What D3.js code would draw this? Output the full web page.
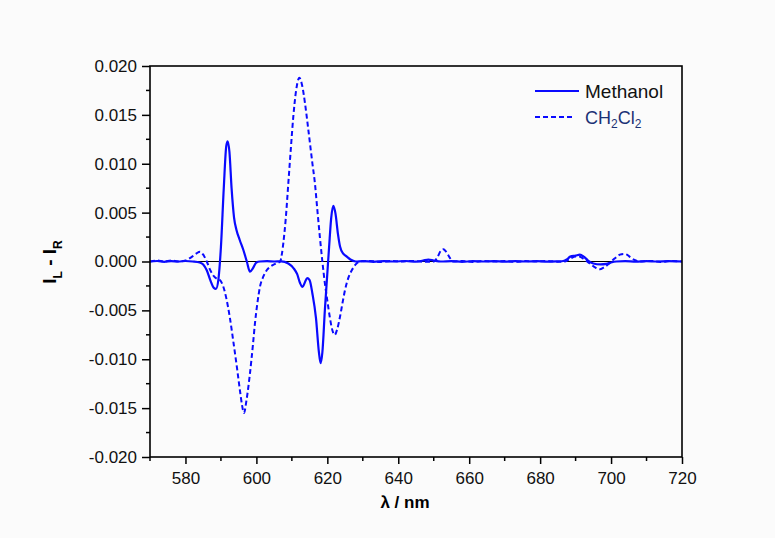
<!DOCTYPE html>
<html>
<head>
<meta charset="utf-8">
<script src="https://cdn.jsdelivr.net/npm/d3@7"></script>
<style>
  body { margin: 0; background: #fbfbfb; }
  svg { display: block; font-family: "Liberation Sans", Arial, sans-serif; }
</style>
</head>
<body>
<svg id="chart"></svg>
<script>
// Wavelengths (nm) and intensity differences for each solvent
const methanolWl = [570, 572, 574, 576, 578, 580, 582, 584, 585, 586, 587, 588, 588.6, 589.3, 590, 590.8, 591.5, 591.9, 592.4, 593, 593.7, 594.4, 595.3, 596.3, 597.3, 598.2, 599, 600, 601, 603, 605, 607, 609, 610.5, 611.5, 612.3, 613, 613.6, 614.3, 615, 615.8, 616.8, 617.6, 618.1, 618.6, 619.3, 620, 620.5, 621.1, 621.7, 622.3, 623, 623.6, 624.5, 625.5, 626.5, 628, 630, 633, 636, 639, 642, 645, 647, 648.5, 650, 652, 655, 658, 661, 664, 667, 670, 673, 676, 679, 682, 685, 686.5, 687.5, 688.5, 690, 691.2, 692.3, 693.5, 695, 697, 698.7, 700, 701.5, 704, 707, 710, 713, 716, 720];
const methanolVal = [0, 0.00005, -0.00003, 0.00004, 0, 0.00005, 0, -0.0001, -0.0003, -0.0009, -0.0019, -0.0027, -0.0028, -0.0018, 0.0015, 0.0075, 0.0118, 0.0123, 0.0112, 0.0075, 0.0045, 0.0032, 0.0022, 0.0012, 0.0, -0.00105, -0.0007, -0.0001, 0, 0.00003, 0, 0.00002, -0.0002, -0.0007, -0.0013, -0.0022, -0.0026, -0.0022, -0.0017, -0.0019, -0.0033, -0.0058, -0.0092, -0.0104, -0.0093, -0.005, -0.0012, 0.0015, 0.0045, 0.0057, 0.0049, 0.0028, 0.0015, 0.0008, 0.0005, 0.0002, 0, 0.00004, -0.00003, 0.00004, 0, 0.00005, -0.00002, 0.0001, 0.0002, 0.0001, 0, 0.00004, -0.00003, 0.00003, 0, 0.00004, -0.00002, 0.00003, 0, 0.00004, -0.00002, 0.00002, 0.00005, 0.0002, 0.0005, 0.0006, 0.0007, 0.0005, 0.0001, -0.0002, -0.0003, -0.00025, -0.0001, 0, 0.00004, -0.00002, 0.00004, 0, 0.00003, 0];

const ch2cl2Wl = [570, 572, 574, 576, 578, 580, 581.5, 583, 584.1, 585, 586, 587, 588, 589, 589.7, 590.6, 591.6, 592.5, 593.5, 594.5, 595.4, 596, 596.5, 597.2, 598.2, 599, 599.6, 600.3, 601, 602, 602.9, 604, 605.5, 606.7, 607.2, 607.6, 608.3, 609, 609.7, 610.4, 611.2, 612.1, 612.9, 613.7, 614.4, 615.1, 615.8, 616.5, 617.2, 617.9, 618.6, 619.3, 620, 620.7, 621.4, 622.1, 622.8, 623.6, 624.3, 625, 626, 626.9, 628, 629.2, 632, 635, 638, 641, 644, 647, 650, 651, 652, 652.7, 653.5, 654.5, 655.5, 658, 661, 664, 667, 670, 673, 676, 679, 682, 685, 687, 688.5, 690, 691, 692.5, 694, 695.5, 696.8, 698, 699.5, 701, 702.5, 703.5, 704.5, 705.5, 707, 708, 711, 714, 717, 720];
const ch2cl2Val = [0, 0.0001, 0, 0.0001, 0, 0.0001, 0.0004, 0.0008, 0.001, 0.0007, 0, -0.0009, -0.0015, -0.0018, -0.0019, -0.0025, -0.0039, -0.0057, -0.0082, -0.0108, -0.0133, -0.0148, -0.0155, -0.0142, -0.0114, -0.0086, -0.0063, -0.0042, -0.0026, -0.0015, -0.0009, -0.0005, -0.0002, 0, 0.0008, 0.0019, 0.0045, 0.008, 0.0115, 0.0148, 0.0175, 0.0188, 0.018, 0.0162, 0.0142, 0.0121, 0.01, 0.008, 0.0052, 0.0025, 0, -0.0022, -0.004, -0.0057, -0.007, -0.0075, -0.0069, -0.0056, -0.0042, -0.0029, -0.0016, -0.0009, -0.0003, 0, 0.00006, -0.00004, 0.00006, 0, 0.00006, -0.00003, 0, 0.0004, 0.0011, 0.00125, 0.001, 0.0004, 0, 0.00005, -0.00004, 0.00006, 0, 0.00005, -0.00003, 0.00005, 0, 0.00006, -0.00003, 0, 0.0003, 0.0005, 0.0005, 0.0002, -0.0002, -0.0006, -0.0008, -0.0006, -0.0002, 0.0003, 0.0007, 0.00078, 0.0007, 0.0004, 0.0001, 0, 0.00006, -0.00004, 0.00005, 0];

const xTicks = [580, 600, 620, 640, 660, 680, 700, 720];
const yTicks = [-0.020, -0.015, -0.010, -0.005, 0.000, 0.005, 0.010, 0.015, 0.020];

const width = 775, height = 538;
const margin = {top: 66, right: 93, bottom: 81, left: 150};
const innerW = width - margin.left - margin.right;
const innerH = height - margin.top - margin.bottom;
const lineColor = "#0a0aff";

const svg = d3.select("#chart").attr("width", width).attr("height", height);
svg.append("rect").attr("width", width).attr("height", height).attr("fill", "#fbfbfb");

const g = svg.append("g").attr("transform", `translate(${margin.left},${margin.top})`);

const x = d3.scaleLinear().domain([570, 720]).range([0, innerW]);
const y = d3.scaleLinear().domain([-0.02, 0.02]).range([innerH, 0]);

g.append("clipPath").attr("id", "clip")
  .append("rect").attr("width", innerW).attr("height", innerH);

// Zero reference line
g.append("line")
  .attr("x1", 0).attr("x2", innerW)
  .attr("y1", y(0)).attr("y2", y(0))
  .attr("stroke", "#000").attr("stroke-width", 1.2);

const line = d3.line()
  .x(d => x(d[0]))
  .y(d => y(d[1]))
  .curve(d3.curveMonotoneX);

const methanol = methanolWl.map((w, i) => [w, methanolVal[i]]);
const ch2cl2 = ch2cl2Wl.map((w, i) => [w, ch2cl2Val[i]]);

g.append("path").datum(ch2cl2)
  .attr("clip-path", "url(#clip)")
  .attr("d", line)
  .attr("fill", "none")
  .attr("stroke", lineColor)
  .attr("stroke-width", 2)
  .attr("stroke-dasharray", "5,3");

g.append("path").datum(methanol)
  .attr("clip-path", "url(#clip)")
  .attr("d", line)
  .attr("fill", "none")
  .attr("stroke", lineColor)
  .attr("stroke-width", 2.2);

// Frame
g.append("rect")
  .attr("width", innerW).attr("height", innerH)
  .attr("fill", "none").attr("stroke", "#000").attr("stroke-width", 1.6);

// Minor ticks
const xMinor = d3.range(570, 721, 10).filter(v => !xTicks.includes(v));
g.selectAll(".xminor").data(xMinor).enter().append("line")
  .attr("x1", d => x(d)).attr("x2", d => x(d))
  .attr("y1", innerH).attr("y2", innerH + 4)
  .attr("stroke", "#000").attr("stroke-width", 1.5);

const yMinor = d3.range(-0.0175, 0.02, 0.005);
g.selectAll(".yminor").data(yMinor).enter().append("line")
  .attr("x1", -4).attr("x2", 0)
  .attr("y1", d => y(d)).attr("y2", d => y(d))
  .attr("stroke", "#000").attr("stroke-width", 1.5);

// Axes
const xAxis = g.append("g").attr("transform", `translate(0,${innerH})`)
  .call(d3.axisBottom(x).tickValues(xTicks).tickSize(7).tickPadding(8).tickFormat(d3.format("d")));
const yAxis = g.append("g")
  .call(d3.axisLeft(y).tickValues(yTicks).tickSize(8).tickPadding(5).tickFormat(d => d3.format(".3f")(d).replace("−", "-")));

[xAxis, yAxis].forEach(ax => {
  ax.select(".domain").remove();
  ax.selectAll(".tick line").attr("stroke", "#000").attr("stroke-width", 1.5);
  ax.selectAll(".tick text").attr("fill", "#111").style("font-size", "17px")
    .style("font-family", "'Liberation Sans', Arial, sans-serif");
});

// Axis titles
svg.append("text")
  .attr("x", 405).attr("y", 508)
  .attr("text-anchor", "middle")
  .style("font-size", "17px").style("font-weight", "bold")
  .text("λ / nm");

const yTitle = svg.append("text")
  .attr("transform", "translate(56,262) rotate(-90)")
  .attr("text-anchor", "middle")
  .style("font-size", "19px").style("font-weight", "bold");
yTitle.append("tspan").text("I");
yTitle.append("tspan").attr("dy", 6).style("font-size", "12px").text("L");
yTitle.append("tspan").attr("dy", -6).text(" - I");
yTitle.append("tspan").attr("dy", 6).style("font-size", "12px").text("R");

// Legend
const legend = svg.append("g");
legend.append("line")
  .attr("x1", 535).attr("x2", 579).attr("y1", 91).attr("y2", 91)
  .attr("stroke", lineColor).attr("stroke-width", 2);
legend.append("text")
  .attr("x", 585).attr("y", 98)
  .style("font-size", "19px").attr("fill", "#111")
  .text("Methanol");

legend.append("line")
  .attr("x1", 535).attr("x2", 575).attr("y1", 117).attr("y2", 117)
  .attr("stroke", lineColor).attr("stroke-width", 2).attr("stroke-dasharray", "5,3");
const ch = legend.append("text")
  .attr("x", 585).attr("y", 124)
  .style("font-size", "18px").attr("fill", "#1b3275");
ch.append("tspan").text("CH");
ch.append("tspan").attr("dy", 4).style("font-size", "12px").text("2");
ch.append("tspan").attr("dy", -4).text("Cl");
ch.append("tspan").attr("dy", 4).style("font-size", "12px").text("2");
</script>
</body>
</html>
